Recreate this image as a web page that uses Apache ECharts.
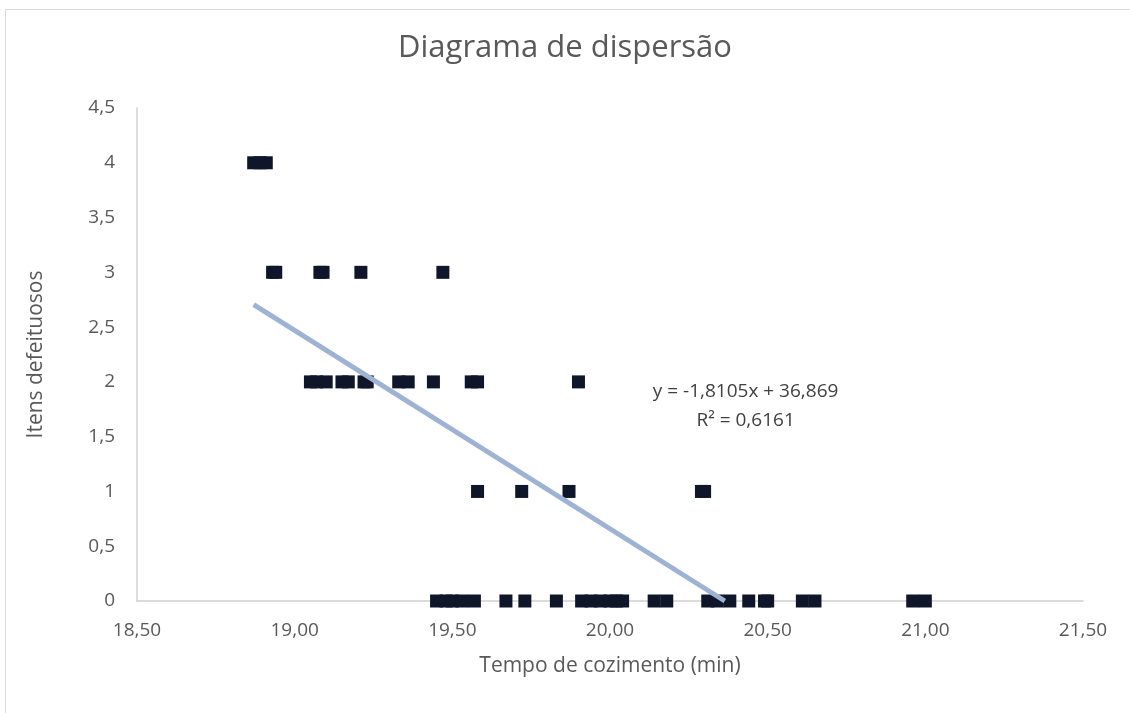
<!DOCTYPE html>
<html>
<head>
<meta charset="utf-8">
<script src="https://cdn.jsdelivr.net/npm/echarts@6/dist/echarts.min.js"></script>
<style>
  html, body { margin: 0; padding: 0; background: #fff; }
  #chart { width: 1130px; height: 713px; }
</style>
</head>
<body>
<div id="chart"></div>
<script>
// tempo de cozimento (min) agrupado por número de itens defeituosos
const tempos0 = [19.45, 19.48, 19.50, 19.53, 19.57, 19.67, 19.73, 19.83,
  19.91, 19.94, 19.97, 20.00, 20.02, 20.04, 20.14, 20.18,
  20.31, 20.34, 20.38, 20.44, 20.49, 20.50, 20.61, 20.65, 20.96, 21.00];
const tempos1 = [19.58, 19.72, 19.87, 20.29, 20.30];
const tempos2 = [19.05, 19.07, 19.10, 19.15, 19.17, 19.22, 19.23, 19.33, 19.36,
  19.44, 19.56, 19.58, 19.90];
const tempos3 = [18.93, 18.94, 19.08, 19.09, 19.21, 19.47];
const tempos4 = [18.87, 18.89, 18.91];
const temposPorItens = [tempos0, tempos1, tempos2, tempos3, tempos4];

// linha de tendência (Excel)
const slope = -1.8105;
const intercept = 36.869;
const rSquared = '0,6161';

const xTicks = { min: 18.5, max: 21.5, interval: 0.5 };
const yTicks = { min: 0, max: 4.5, interval: 0.5 };

const points = [];
temposPorItens.forEach((arr, itens) => {
  arr.forEach(t => points.push([t, itens]));
});

const allX = points.map(p => p[0]);
const trendStart = Math.min(...allX);
const trendEnd = Math.min(Math.max(...allX), -intercept / slope); // cortada em y = 0
const trendData = [
  [trendStart, slope * trendStart + intercept],
  [trendEnd, slope * trendEnd + intercept]
];

const comma = v => String(v).replace('.', ',');
const txt = '#595959';
const font = "'Open Sans', 'Noto Sans', sans-serif";

const myChart = echarts.init(document.getElementById('chart'));
myChart.setOption({
  animation: false,
  backgroundColor: '#fff',
  textStyle: { fontFamily: font },
  title: {
    text: 'Diagrama de dispersão',
    left: 'center',
    top: 28,
    textStyle: { fontSize: 31, fontWeight: 'normal', color: txt, fontFamily: font }
  },
  graphic: [{
    type: 'rect',
    left: 3, top: 7,
    shape: { width: 1140, height: 720 },
    style: { fill: 'none', stroke: '#d9d9d9', lineWidth: 1 },
    silent: true
  }],
  grid: { left: 137, right: 47, top: 108, bottom: 112 },
  xAxis: {
    type: 'value',
    min: xTicks.min, max: xTicks.max, interval: xTicks.interval,
    name: 'Tempo de cozimento (min)',
    nameLocation: 'middle',
    nameGap: 55,
    nameTextStyle: { fontSize: 21, color: txt },
    axisLine: { lineStyle: { color: '#d0d0d0', width: 1.5 } },
    axisTick: { show: false },
    splitLine: { show: false },
    axisLabel: { color: txt, fontSize: 19, margin: 20, formatter: v => v.toFixed(2).replace('.', ',') }
  },
  yAxis: {
    type: 'value',
    min: yTicks.min, max: yTicks.max, interval: yTicks.interval,
    name: 'Itens defeituosos',
    nameLocation: 'middle',
    nameGap: 90,
    nameTextStyle: { fontSize: 21, color: txt },
    axisLine: { show: true, lineStyle: { color: '#d0d0d0', width: 1.5 } },
    axisTick: { show: false },
    splitLine: { show: false },
    axisLabel: { color: txt, fontSize: 19, margin: 22, formatter: comma }
  },
  series: [
    {
      name: 'Itens defeituosos',
      type: 'scatter',
      symbol: 'rect',
      symbolSize: [13, 13],
      itemStyle: { color: '#0f1629', opacity: 1 },
      data: points,
      z: 3
    },
    {
      name: 'Linear',
      type: 'line',
      data: trendData,
      symbol: 'none',
      lineStyle: { color: '#9eb2d3', width: 5 },
      z: 4,
      silent: true,
      markPoint: {
        symbol: 'circle',
        symbolSize: 1,
        itemStyle: { color: 'rgba(0,0,0,0)' },
        label: {
          show: true,
          position: 'inside',
          color: '#404040',
          fontSize: 19,
          lineHeight: 29,
          align: 'center',
          formatter: 'y = ' + comma(slope) + 'x + ' + comma(intercept) + '\nR² = ' + rSquared
        },
        data: [{ coord: [20.43, 1.78] }]
      }
    }
  ]
});
</script>
</body>
</html>
